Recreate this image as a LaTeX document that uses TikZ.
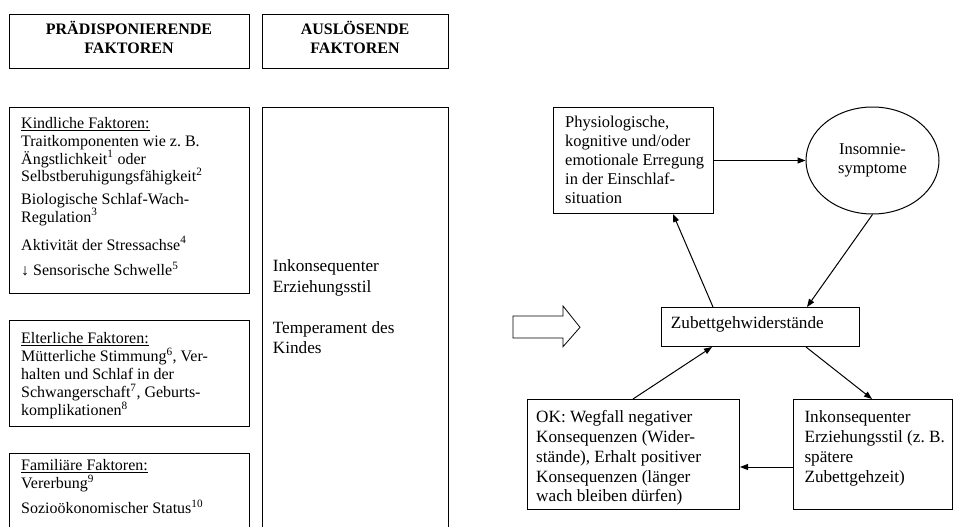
\documentclass[tikz,border=0pt]{standalone}
\usepackage{fontspec}
\setmainfont{Liberation Serif}
\usetikzlibrary{arrows.meta,shapes.geometric}
\frenchspacing
\begin{document}
\begin{tikzpicture}[x=1pt,y=-1pt,
  box/.style={draw, line width=1pt, rectangle, inner sep=0pt, anchor=north west},
  % text blocks are placed by the baseline of their last line
  txt/.style={anchor=base west, inner sep=0pt, align=left},
  lfont/.style={font=\fontsize{16}{17.8}\selectfont},
  rfont/.style={font=\fontsize{17.2}{19.8}\selectfont},
  head/.style={font=\fontsize{16}{19}\selectfont\bfseries, align=center, inner sep=0pt, anchor=base},
  link/.style={line width=1pt, -{Triangle[length=8pt,width=6pt]}},
]
\useasboundingbox (0,0) rectangle (953,527);
\clip (0,0) rectangle (953,527);

% column headers
\node[box, minimum width=240pt, minimum height=54pt] (hpre) at (9,14) {};
\node[head] (hpret) at (129,54) {PRÄDISPONIERENDE\\FAKTOREN};
\node[box, minimum width=186pt, minimum height=54pt] (hausl) at (262,14) {};
\node[head] (hauslt) at (355,54) {AUSLÖSENDE\\FAKTOREN};

% predisposing factors
\node[box, minimum width=240pt, minimum height=186pt] (kind) at (9,107) {};
\node[txt, lfont] (kindt) at (21,275.8) {\underline{Kindliche Faktoren:}\\
Traitkomponenten wie z.~B.\\
Ängstlichkeit\textsuperscript{1} oder\\
Selbstberuhigungsfähigkeit\textsuperscript{2}\\[4.8pt]
Biologische Schlaf-Wach-\\
Regulation\textsuperscript{3}\\[10pt]
Aktivität der Stressachse\textsuperscript{4}\\[8pt]
↓ Sensorische Schwelle\textsuperscript{5}};

\node[box, minimum width=240pt, minimum height=106pt] (elt) at (9,320) {};
\node[txt, font=\fontsize{16}{18}\selectfont] (eltt) at (21,415.5) {\underline{Elterliche Faktoren:}\\
Mütterliche Stimmung\textsuperscript{6}, Ver-\\
halten und Schlaf in der\\
Schwangerschaft\textsuperscript{7}, Geburts-\\
komplikationen\textsuperscript{8}};

\node[box, minimum width=240pt, minimum height=100pt] (fam) at (9,453) {};
\node[txt, font=\fontsize{16}{18}\selectfont] (famt) at (21,513.5) {\underline{Familiäre Faktoren:}\\
Vererbung\textsuperscript{9}\\[7pt]
Sozioökonomischer Status\textsuperscript{10}};

% triggering factors
\node[box, minimum width=186pt, minimum height=440pt] (ausl) at (262,107) {};
\node[txt, font=\fontsize{17.2}{20.3}\selectfont] (auslt) at (272.7,353.3) {Inkonsequenter\\
Erziehungsstil\\[20.6pt]
Temperament des\\
Kindes};

% transition arrow
\draw[line width=0.8pt] (513,316) -- (563,316) -- (563,306) -- (580,327.3)
  -- (563,346.7) -- (563,338) -- (513,338) -- cycle;

% maintaining cycle
\node[box, minimum width=160pt, minimum height=106pt] (phys) at (553,107) {};
\node[txt, font=\fontsize{16.5}{18.8}\selectfont] (physt) at (565,203) {Physiologische,\\
kognitive und/oder\\
emotionale Erregung\\
in der Einschlaf-\\
situation};

\node[draw, line width=1pt, ellipse, inner sep=0pt, minimum width=133pt, minimum height=107pt,
  align=center, font=\fontsize{16.5}{19}\selectfont] (ins) at (872.5,160.5) {Insomnie-\\symptome};

\node[box, minimum width=198pt, minimum height=39pt] (zub) at (661,307) {};
\node[txt, rfont] (zubt) at (670.7,328.3) {Zubettgehwiderstände};

\node[box, minimum width=212pt, minimum height=110pt] (ok) at (527,399) {};
\node[txt, rfont] (okt) at (536,501.9) {OK: Wegfall negativer\\
Konsequenzen (Wider-\\
stände), Erhalt positiver\\
Konsequenzen (länger\\
wach bleiben dürfen)};

\node[box, minimum width=159pt, minimum height=110pt] (ink) at (793,399) {};
\node[txt, rfont] (inkt) at (804.3,482.3) {Inkonsequenter\\
Erziehungsstil (z.~B.\\
spätere\\
Zubettgehzeit)};

% connectors
\draw[link] (phys.east) -- (ins.west);
\draw[link] ([xshift=52pt]zub.north west) -- ([xshift=120pt]phys.south west);
\draw[link] (ins.south) -- ([xshift=146pt]zub.north west);
\draw[link] ([xshift=145pt]zub.south west) -- ([xshift=79pt]ink.north west);
\draw[link] ([xshift=106pt]ok.north west) -- ([xshift=51pt]zub.south west);
\coordinate (inkl) at ([yshift=-68pt]ink.north west);
\draw[link] (inkl) -- (inkl -| ok.east);
\end{tikzpicture}
\end{document}
